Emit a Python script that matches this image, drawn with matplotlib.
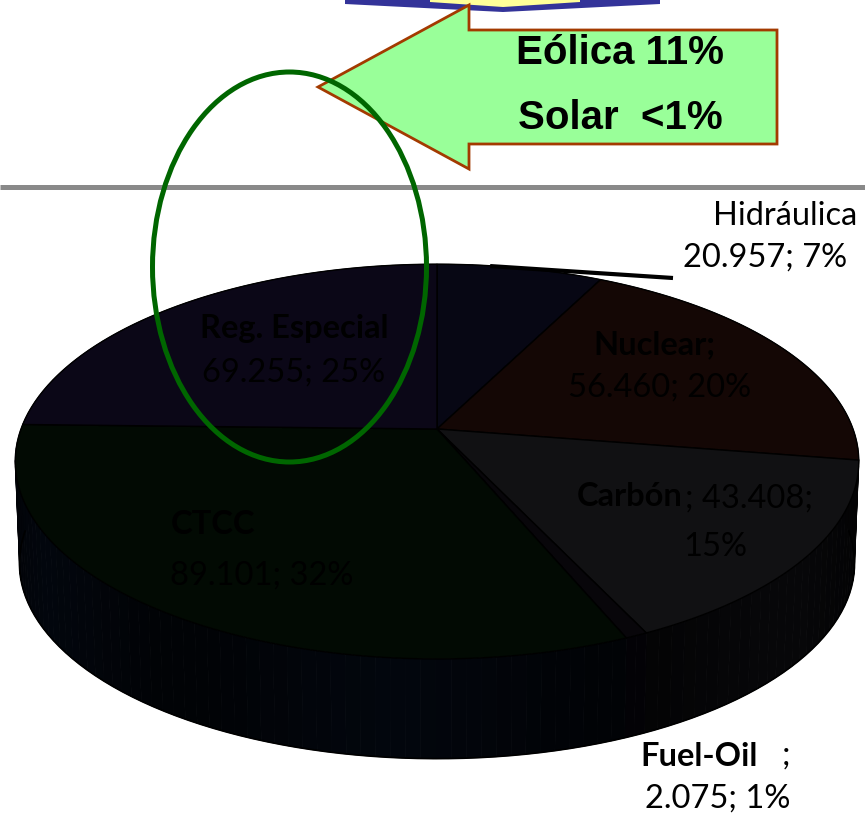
import numpy as np
import matplotlib
matplotlib.use("Agg")
import matplotlib.pyplot as plt
from matplotlib.patches import Polygon, Ellipse

# Electricity generation by source (GWh)
categories = ["Hidráulica", "Nuclear", "Carbón", "Fuel-Oil", "CTCC", "Reg. Especial"]
energy_gwh = [20957, 56460, 43408, 2075, 89101, 69255]
top_colors = ["#070714", "#140705", "#111113", "#08060a", "#020a03", "#0b0717"]
wall_colors = ["#030310", "#0a0302", "#060608", "#05030a", "#02050b", "#05030e"]
renewables = ["Eólica 11%", "Solar  <1%"]

W, H = 865, 837
fig = plt.figure(figsize=(W / 100, H / 100), dpi=100)
ax = fig.add_axes([0, 0, 1, 1])
ax.set_xlim(0, W)
ax.set_ylim(H, 0)
ax.axis("off")

LAB = "Lato"
fs = 23.5

# ---- 3D pie geometry (perspective disc) ----
cx, cy = 437, 430
rx, ry = 416, 192
persp = 0.165
depth = 102


def project(theta, drop=0.0, shrink=1.0):
    """theta measured clockwise from 12 o'clock on the disc."""
    u = np.sin(theta)
    v = -np.cos(theta)
    w = 1 - persp * v
    return cx + rx * shrink * u / w, cy + ry * shrink * v / w + drop


total = float(sum(energy_gwh))
fracs = np.array(energy_gwh) / total
bounds = np.concatenate([[0], np.cumsum(fracs)]) * 2 * np.pi


def shade(hexcol, f):
    c = np.array(matplotlib.colors.to_rgb(hexcol))
    return np.clip(c * f, 0, 1)


# side walls, drawn back to front
segs = []
for i in range(len(categories)):
    t = np.linspace(bounds[i], bounds[i + 1], max(3, int((bounds[i + 1] - bounds[i]) / 0.03)))
    for a0, a1 in zip(t[:-1], t[1:]):
        xa, ya = project(np.array([a0, a1]))
        xb, yb = project(np.array([a1, a0]), drop=depth, shrink=0.99)
        vmid = -np.cos((a0 + a1) / 2)
        f = 0.55 + 0.6 * np.sin((a0 + a1) * 1.7) ** 2
        segs.append((vmid, np.column_stack([np.r_[xa, xb], np.r_[ya, yb]]), shade(wall_colors[i], f)))
segs.sort(key=lambda s: s[0])
for _, pts, col in segs:
    ax.add_patch(Polygon(pts, closed=True, facecolor=col, edgecolor=col, lw=0.6, zorder=2))

# outline of the bottom rim
tt = np.linspace(np.pi / 2, 3 * np.pi / 2, 200)
bx, by = project(tt, drop=depth, shrink=0.99)
ax.plot(bx, by, color="#000000", lw=1.2, zorder=2.5)

# top face slices
for i in range(len(categories)):
    t = np.linspace(bounds[i], bounds[i + 1], 120)
    x, y = project(t)
    pts = np.column_stack([np.r_[cx, x], np.r_[cy, y]])
    ax.add_patch(Polygon(pts, closed=True, facecolor=top_colors[i], edgecolor="#000000",
                         lw=1.0, zorder=3))


def fmt(v):
    return f"{v:,}".replace(",", ".")


def pct(v):
    return f"{round(100 * v / total)}%"


vals = dict(zip(categories, energy_gwh))
dark = "#000000"

# labels placed on the slices
ax.text(294, 328, "Reg. Especial", fontsize=fs, fontweight="bold", family=LAB,
        ha="center", va="center", color=dark, zorder=5)
ax.text(294, 373, f"{fmt(vals['Reg. Especial'])}; {pct(vals['Reg. Especial'])}", fontsize=fs,
        family=LAB, ha="center", va="center", color=dark, zorder=5)
ax.text(654, 345, "Nuclear;", fontsize=fs, fontweight="bold", family=LAB,
        ha="center", va="center", color=dark, zorder=5)
ax.text(660, 388, f"{fmt(vals['Nuclear'])}; {pct(vals['Nuclear'])}", fontsize=fs,
        family=LAB, ha="center", va="center", color=dark, zorder=5)
ax.text(577, 506, "Carbón", fontsize=fs, fontweight="bold", family=LAB,
        ha="left", va="baseline", color=dark, zorder=5)
ax.text(685, 508, f"; {fmt(vals['Carbón'])};", fontsize=fs, family=LAB,
        ha="left", va="baseline", color=dark, zorder=5)
ax.text(715, 547, pct(vals["Carbón"]), fontsize=fs, family=LAB,
        ha="center", va="center", color=dark, zorder=5)
ax.text(171, 524, "CTCC", fontsize=fs, fontweight="bold", family=LAB,
        ha="left", va="center", color=dark, zorder=5)
ax.text(170, 576, f"{fmt(vals['CTCC'])}; {pct(vals['CTCC'])}", fontsize=fs, family=LAB,
        ha="left", va="center", color=dark, zorder=5)

# labels outside the pie
ax.text(857, 216, "Hidráulica", fontsize=fs, family=LAB, ha="right", va="center",
        color="#000000", zorder=5)
ax.text(847, 258, f"{fmt(vals['Hidráulica'])}; {pct(vals['Hidráulica'])}", fontsize=fs,
        family=LAB, ha="right", va="center", color="#000000", zorder=5)
mid = (bounds[0] + bounds[1]) / 2
lx, ly = project(mid)
ax.plot([lx - 30, 673], [ly - 2, 279], color="#000000", lw=3, solid_capstyle="butt", zorder=4)

ax.text(640, 756, "Fuel-Oil", fontsize=fs, fontweight="bold", family=LAB,
        ha="left", va="center", color="#000000", zorder=5)
ax.text(786, 756, ";", fontsize=fs, family=LAB, ha="center", va="center",
        color="#000000", zorder=5)
ax.text(718, 799, f"{fmt(vals['Fuel-Oil'])}; {pct(vals['Fuel-Oil'])}", fontsize=fs,
        family=LAB, ha="center", va="center", color="#000000", zorder=5)

# separator line
ax.plot([0, W], [188, 188], color="#898989", lw=3.6, solid_capstyle="butt", zorder=1)

# banner edge at the top
ax.add_patch(Polygon([(345, -5), (660, -5), (660, 5), (503, 13), (345, 5)], closed=True,
                     facecolor="#333399", edgecolor="none", zorder=1))
ax.add_patch(Polygon([(430, -5), (580, -5), (580, 3), (503, 8), (430, 3)], closed=True,
                     facecolor="#ffff99", edgecolor="none", zorder=1.1))

# callout arrow with the renewable shares
arrow = [(318, 88), (469, 6), (469, 31), (777, 31), (777, 145), (469, 145), (469, 170)]
ax.add_patch(Polygon(arrow, closed=True, facecolor="#99ff99", edgecolor="#a33a00",
                     lw=2.0, joinstyle="miter", zorder=6))
ax.text(620, 53, renewables[0], fontsize=29, fontweight="bold", family="Liberation Sans",
        ha="center", va="center", color="#000000", zorder=7)
ax.text(620, 118, renewables[1], fontsize=29, fontweight="bold", family="Liberation Sans",
        ha="center", va="center", color="#000000", zorder=7)

# highlight ellipse around the special regime slice
ax.add_patch(Ellipse((289.5, 268), 274, 390, fill=False, edgecolor="#006600",
                     lw=3.6, zorder=8))

fig.savefig("out.png", dpi=100)
